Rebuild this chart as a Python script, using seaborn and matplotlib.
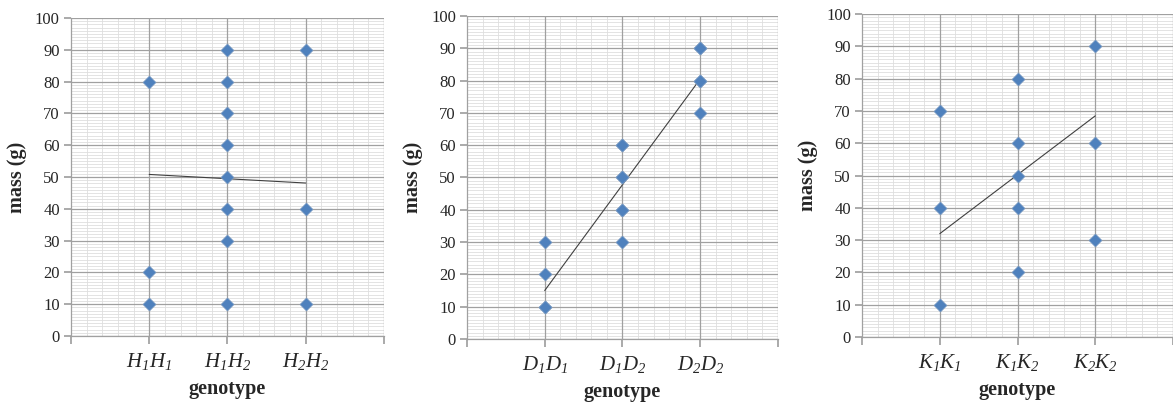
#!/usr/bin/env python3
"""Mass vs genotype for three loci, with linear trend lines."""

import matplotlib.pyplot as plt
import pandas as pd
import seaborn as sns
from matplotlib.ticker import MultipleLocator

# --- data ---
h_genotypes = ["$H_1H_1$", "$H_1H_2$", "$H_2H_2$"]
h_mass = [
    [80, 20, 10],
    [90, 80, 70, 60, 50, 40, 30, 10],
    [90, 40, 10],
]
h_trend = [50.8, 48.1]

d_genotypes = ["$D_1D_1$", "$D_1D_2$", "$D_2D_2$"]
d_mass = [
    [30, 20, 10, 10],
    [60, 60, 50, 50, 40, 40, 30],
    [90, 90, 80, 80, 70],
]
d_trend = [15.0, 80.5]

k_genotypes = ["$K_1K_1$", "$K_1K_2$", "$K_2K_2$"]
k_mass = [
    [70, 40, 10],
    [80, 60, 50, 40, 20],
    [90, 60, 30],
]
k_trend = [32.0, 68.5]

panels = [
    (h_genotypes, h_mass, h_trend, [0.0605, 0.1704, 0.2668, 0.7852]),
    (d_genotypes, d_mass, d_trend, [0.3981, 0.1630, 0.2651, 0.7975]),
    (k_genotypes, k_mass, k_trend, [0.7349, 0.1680, 0.2651, 0.7970]),
]

BLUE = "#4F81BD"
MAJOR = "#a0a0a0"
MINOR = "#dedede"

sns.set_theme(style="white")
plt.rcParams["font.family"] = ["Liberation Serif", "DejaVu Serif"]
plt.rcParams["mathtext.fontset"] = "custom"
plt.rcParams["mathtext.it"] = "Liberation Serif:italic"
plt.rcParams["mathtext.rm"] = "Liberation Serif:italic"

fig = plt.figure(figsize=(11.73, 4.05), dpi=100)

for genotypes, masses, trend, rect in panels:
    ax = fig.add_axes(rect)

    rows = []
    for i, (g, vals) in enumerate(zip(genotypes, masses)):
        for v in vals:
            rows.append({"genotype": g, "pos": i + 1, "mass": v})
    df = pd.DataFrame(rows)

    # grid first so it sits behind the data
    ax.set_axisbelow(True)
    ax.xaxis.set_major_locator(MultipleLocator(1))
    ax.xaxis.set_minor_locator(MultipleLocator(0.2))
    ax.yaxis.set_major_locator(MultipleLocator(10))
    ax.yaxis.set_minor_locator(MultipleLocator(1))
    ax.grid(which="minor", color=MINOR, linewidth=0.6)
    ax.grid(axis="y", which="major", color=MAJOR, linewidth=0.9)
    # major verticals on top of the horizontal minor lines
    for xv in range(1, 5):
        ax.axvline(xv, color=MAJOR, linewidth=0.9, zorder=1.5)

    trend_df = pd.DataFrame({"pos": [1, 3], "mass": trend})
    sns.lineplot(data=trend_df, x="pos", y="mass", ax=ax, color="#404040",
                 linewidth=0.8, zorder=3)
    sns.scatterplot(data=df, x="pos", y="mass", ax=ax, marker="D", s=45,
                    color=BLUE, edgecolor="#8aa4c4", linewidth=0.4, zorder=4)

    ax.set_xlim(0, 4)
    ax.set_ylim(0, 100)
    ax.set_xticks([0, 1, 2, 3, 4])
    ax.set_xticklabels([""] + genotypes + [""], fontsize=15)
    ax.tick_params(axis="x", which="major", direction="out", length=6,
                   color=MAJOR, pad=5, bottom=True)
    ax.tick_params(axis="y", which="major", direction="out", length=5,
                   color=MAJOR, labelsize=12, pad=3, left=True)
    ax.tick_params(which="minor", length=0)

    for s in ("top", "right"):
        ax.spines[s].set_visible(False)
    for s in ("left", "bottom"):
        ax.spines[s].set_color(MAJOR)
        ax.spines[s].set_linewidth(0.9)

    ax.set_xlabel("genotype", fontsize=14.5, fontweight="bold", labelpad=5)
    ax.set_ylabel("mass (g)", fontsize=14.5, fontweight="bold", labelpad=6)

fig.savefig("out.png", dpi=100)
